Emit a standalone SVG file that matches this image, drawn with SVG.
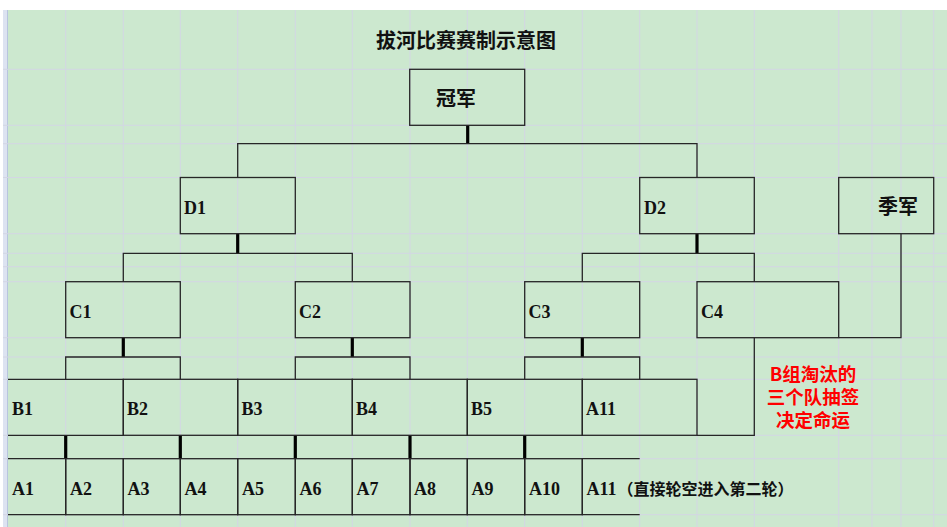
<svg xmlns="http://www.w3.org/2000/svg" width="947" height="527" viewBox="0 0 947 527">
<style>
.grid{stroke:#d3d6e4;stroke-width:1;fill:none}
.box{fill:none;stroke:#262626;stroke-width:1.3}
.ln{fill:none;stroke:#262626;stroke-width:1.3}
.thick{fill:none;stroke:#000;stroke-width:3.2}
.lat{font-family:"Liberation Serif","Noto Sans CJK SC",serif;font-weight:bold;font-size:18px;fill:#111}
.cjk{font-family:"Noto Sans CJK SC","Liberation Sans",sans-serif;font-weight:bold;font-size:20px;fill:#111}
.cjk16{font-family:"Noto Sans CJK SC","Liberation Sans",sans-serif;font-weight:bold;font-size:16px;fill:#111}
.note{font-family:"Noto Sans CJK SC","Liberation Serif",sans-serif;font-weight:bold;font-size:18.5px;fill:#ff0000;text-anchor:middle}
</style>
<rect x="0" y="0" width="947" height="527" fill="#ffffff"/>
<rect x="8" y="10" width="939" height="517" fill="#cce8cf"/>
<rect x="3" y="10" width="5" height="517" fill="#dde3f1"/>
<line x1="7.5" y1="10" x2="7.5" y2="527" stroke="#b9c5de" stroke-width="1"/>
<g id="grid" class="grid">
<path d="M65.7,10V527M123.3,10V527M180.3,10V527M237.7,10V527M295.3,10V527M352.3,10V527M410,10V527M467.3,10V527M524.7,10V527M582.3,10V527M639.7,10V527M697,10V527M754.3,10V527M838.7,10V527M872,10V527M901,10V527M933.7,10V527"/>
<path d="M3,69.3H947M3,125.3H947M3,143.7H947M3,177.5H947M3,233.7H947M3,253.3H947M3,266.7H947M3,281.7H947M3,337.7H947M3,357H947M3,379.3H947M3,435.3H947M3,458.7H947M3,514.7H947"/>
</g>
<g id="title"><text class="cjk" x="466" y="47.5" text-anchor="middle">拔河比赛赛制示意图</text></g>
<g id="connectors">
<line class="thick" x1="467.7" y1="125.3" x2="467.7" y2="143.7"/>
<path class="ln" d="M237.7,177.5V143.7H697V177.5"/>
<line class="thick" x1="237.7" y1="233.7" x2="237.7" y2="253.3"/>
<path class="ln" d="M123.3,281.7V253.3H352.3V281.7"/>
<line class="thick" x1="697" y1="233.7" x2="697" y2="253.3"/>
<path class="ln" d="M582.3,281.7V253.3H754.3V281.7"/>
<line class="thick" x1="123.3" y1="337.7" x2="123.3" y2="357"/>
<path class="ln" d="M65.7,379.3V357H180.3V379.3"/>
<line class="thick" x1="352.3" y1="337.7" x2="352.3" y2="357"/>
<path class="ln" d="M295.3,379.3V357H410V379.3"/>
<line class="thick" x1="582.3" y1="337.7" x2="582.3" y2="357"/>
<path class="ln" d="M524.7,379.3V357H639.7V379.3"/>
<path class="ln" d="M838.7,337.7H901V233.7"/>
<path class="ln" d="M754.3,337.7V435.3H697"/>
<line class="thick" x1="65.7" y1="435.3" x2="65.7" y2="458.7"/>
<line class="thick" x1="180.3" y1="435.3" x2="180.3" y2="458.7"/>
<line class="thick" x1="295.3" y1="435.3" x2="295.3" y2="458.7"/>
<line class="thick" x1="410" y1="435.3" x2="410" y2="458.7"/>
<line class="thick" x1="524.7" y1="435.3" x2="524.7" y2="458.7"/>
</g>
<g id="champion"><rect class="box" x="409.7" y="69.3" width="115" height="56"/><text class="cjk" x="436" y="105.6">冠军</text></g>
<g id="d1"><rect class="box" x="180.3" y="177.5" width="115" height="56.2"/><text class="lat" x="184" y="214">D1</text></g>
<g id="d2"><rect class="box" x="639.7" y="177.5" width="114.6" height="56.2"/><text class="lat" x="644" y="214">D2</text></g>
<g id="third"><rect class="box" x="838.7" y="177.5" width="95" height="56.2"/><text class="cjk" x="878" y="214">季军</text></g>
<g id="c1"><rect class="box" x="65.7" y="281.7" width="114.6" height="56"/><text class="lat" x="69.5" y="317.5">C1</text></g>
<g id="c2"><rect class="box" x="295.3" y="281.7" width="114.7" height="56"/><text class="lat" x="299" y="317.5">C2</text></g>
<g id="c3"><rect class="box" x="524.7" y="281.7" width="115" height="56"/><text class="lat" x="528.5" y="317.5">C3</text></g>
<g id="c4"><rect class="box" x="697" y="281.7" width="141.7" height="56"/><text class="lat" x="701" y="317.5">C4</text></g>
<g id="b1"><path class="ln" d="M8,379.3H123.3V435.3H8"/><text class="lat" x="12" y="415">B1</text></g>
<g id="b2"><rect class="box" x="123.3" y="379.3" width="114.4" height="56"/><text class="lat" x="127" y="415">B2</text></g>
<g id="b3"><rect class="box" x="237.7" y="379.3" width="114.6" height="56"/><text class="lat" x="241.5" y="415">B3</text></g>
<g id="b4"><rect class="box" x="352.3" y="379.3" width="115" height="56"/><text class="lat" x="356" y="415">B4</text></g>
<g id="b5"><rect class="box" x="467.3" y="379.3" width="115" height="56"/><text class="lat" x="471" y="415">B5</text></g>
<g id="b-a11"><rect class="box" x="582.3" y="379.3" width="114.7" height="56"/><text class="lat" x="586" y="415">A11</text></g>
<g id="a1"><path class="ln" d="M8,458.7H65.7V514.7H8"/><text class="lat" x="12" y="494.5">A1</text></g>
<g id="a2"><rect class="box" x="65.7" y="458.7" width="57.6" height="56"/><text class="lat" x="70" y="494.5">A2</text></g>
<g id="a3"><rect class="box" x="123.3" y="458.7" width="57" height="56"/><text class="lat" x="127.5" y="494.5">A3</text></g>
<g id="a4"><rect class="box" x="180.3" y="458.7" width="57.4" height="56"/><text class="lat" x="184.5" y="494.5">A4</text></g>
<g id="a5"><rect class="box" x="237.7" y="458.7" width="57.6" height="56"/><text class="lat" x="242" y="494.5">A5</text></g>
<g id="a6"><rect class="box" x="295.3" y="458.7" width="57" height="56"/><text class="lat" x="299.5" y="494.5">A6</text></g>
<g id="a7"><rect class="box" x="352.3" y="458.7" width="57.7" height="56"/><text class="lat" x="356.5" y="494.5">A7</text></g>
<g id="a8"><rect class="box" x="410" y="458.7" width="57.3" height="56"/><text class="lat" x="414" y="494.5">A8</text></g>
<g id="a9"><rect class="box" x="467.3" y="458.7" width="57.4" height="56"/><text class="lat" x="471.5" y="494.5">A9</text></g>
<g id="a10"><rect class="box" x="524.7" y="458.7" width="57.6" height="56"/><text class="lat" x="529" y="494.5">A10</text></g>
<g id="a11"><path class="ln" d="M639.7,458.7H582.3V514.7H639.7"/><text x="586.5" y="494.5"><tspan class="lat">A11</tspan><tspan class="cjk16" dx="1">（直接轮空进入第二轮）</tspan></text></g>
<g id="note">
<text class="note" x="813" y="381">B组淘汰的</text>
<text class="note" x="813" y="404">三个队抽签</text>
<text class="note" x="813" y="427">决定命运</text>
</g>
</svg>
